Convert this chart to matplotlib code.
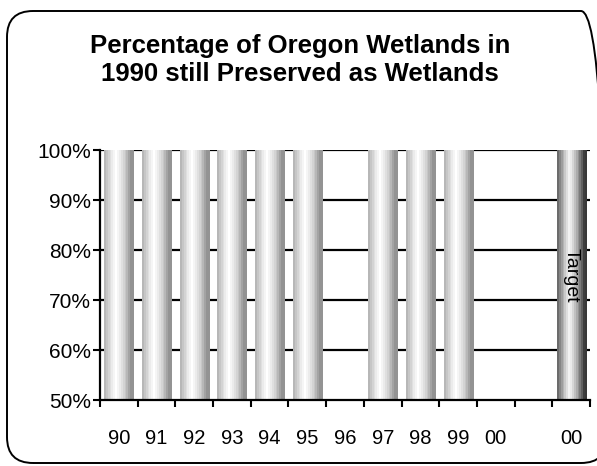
import numpy as np
import matplotlib
matplotlib.use("Agg")
import matplotlib.pyplot as plt
from matplotlib.patches import FancyBboxPatch

plt.rcParams['font.family'] = ['Liberation Sans', 'DejaVu Sans']

# data
years = ['90', '91', '92', '93', '94', '95', '96', '97', '98', '99', '00', '', '00']
values = [100, 100, 100, 100, 100, 100, None, 100, 100, 100, None, None, 100]
is_target = [False] * 12 + [True]
title = 'Percentage of Oregon Wetlands in\n1990 still Preserved as Wetlands'

fig = plt.figure(figsize=(5.97, 4.66), dpi=100)
ax = fig.add_axes([100 / 597, 1 - 400 / 466, 490 / 597, 250 / 466])

x = np.arange(len(years))

# gridlines
for g in [60, 70, 80, 90, 100]:
    ax.axhline(g, color='black', lw=1.6, zorder=1)

# banded shading for the cylinder-like bars
t = np.linspace(0, 1, 16)
normal = 0.58 + 0.42 * np.clip(1 - np.abs(t - 0.4) / 0.5, 0, 1) ** 0.7
target = 0.22 + 0.75 * np.clip(1 - np.abs(t - 0.42) / 0.52, 0, 1) ** 0.8

width = 0.77
for xi, v, tg in zip(x, values, is_target):
    if v is None:
        continue
    prof = target if tg else normal
    img = np.tile(prof, (2, 1))
    ax.imshow(img, cmap='gray', vmin=0, vmax=1, aspect='auto',
              extent=(xi - width / 2, xi + width / 2, 50, v), zorder=2,
              interpolation='nearest')
    if tg:
        ax.text(xi, 75, 'Target', rotation=-90, ha='center', va='center',
                fontsize=14, zorder=3)

ax.set_xlim(-0.5, len(years) - 0.5)
ax.set_ylim(50, 100)

ax.set_yticks([50, 60, 70, 80, 90, 100])
ax.set_yticklabels(['50%', '60%', '70%', '80%', '90%', '100%'], fontsize=15)
ax.set_xticks(x)
ax.set_xticklabels(years, fontsize=14.5)
ax.set_xticks(np.arange(-0.5, len(years)), minor=True)
ax.tick_params(axis='x', which='major', length=0, pad=21)
ax.tick_params(axis='x', which='minor', length=5, width=1.5, direction='out')
ax.tick_params(axis='y', length=5, width=1.5, direction='out', pad=1.5)

for s in ['top', 'right']:
    ax.spines[s].set_visible(False)
for s in ['left', 'bottom']:
    ax.spines[s].set_linewidth(1.6)
    ax.spines[s].set_zorder(4)

fig.text(300 / 597, 1 - 60 / 466, title, ha='center', va='center',
         fontsize=18.5, fontweight='bold', linespacing=1.2)

# rounded frame, right side runs off the image
border = FancyBboxPatch((0.07, 0.03), 6.0, 4.52,
                        boxstyle='round,pad=0,rounding_size=0.26',
                        transform=fig.dpi_scale_trans, fill=False,
                        edgecolor='black', lw=1.4)
fig.patches.append(border)

fig.savefig('out.png', dpi=100)
